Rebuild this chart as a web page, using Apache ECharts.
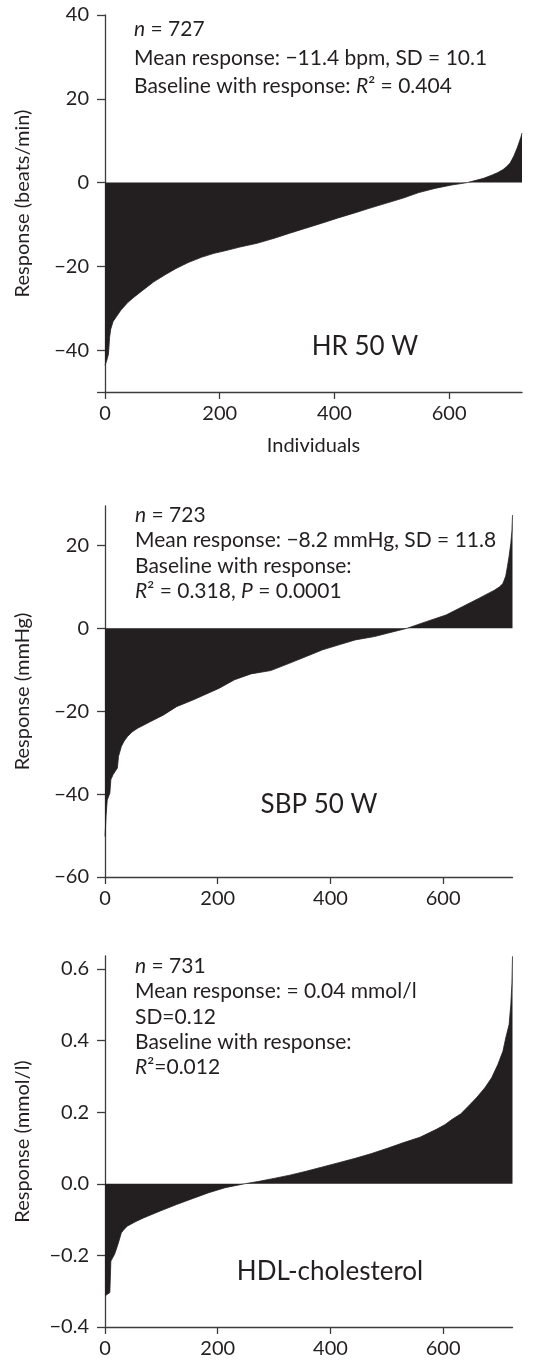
<!DOCTYPE html>
<html>
<head>
<meta charset="utf-8">
<title>Individual responses</title>
<script src="https://cdn.jsdelivr.net/npm/echarts@6/dist/echarts.min.js"></script>
<style>
  html, body { margin: 0; padding: 0; background: #ffffff; }
  #chart { width: 535px; height: 1366px; }
</style>
</head>
<body>
<div id="chart"></div>
<script>
// Individual responses, ranked from lowest to highest: [individual rank, response]
const hrResponse = [
  [0, -43.6], [3, -42.5], [6, -41], [8, -37], [10, -35], [14, -33.2], [20, -32],
  [28, -30.4], [40, -28.6], [51, -27.3], [65, -25.8], [85, -23.7], [105, -22],
  [124, -20.5], [145, -19.1], [169, -17.8], [190, -16.9], [209, -16.3], [235, -15.4],
  [265, -14.5], [295, -13.3], [322, -12.1], [350, -10.9], [378, -9.7], [405, -8.5],
  [434, -7.3], [462, -6.1], [491, -4.9], [520, -3.7], [547, -2.4], [575, -1.4],
  [604, -0.6], [632, 0], [660, 1.0], [675, 1.8], [685, 2.4], [694, 3.1], [700, 3.8],
  [706, 4.6], [710, 5.6], [713, 6.4], [716, 7.4], [719, 8.4], [722, 9.6], [725, 10.8], [727, 11.8]
];
const sbpResponse = [
  [0, -50.2], [2, -45], [4, -41.4], [8.6, -39.8], [10.4, -36.5], [14.4, -35.3],
  [22, -33.7], [24, -30.9], [29, -28.5], [34, -27.2], [40, -26.1], [48, -25.0], [58, -24.1], [81, -22.5],
  [104, -20.9], [127, -18.9], [156, -17.3], [179, -15.9], [202, -14.5], [230, -12.4],
  [259, -11.0], [294, -10.2], [328, -8.4], [357, -6.8], [386, -5.2], [415, -4.0],
  [444, -2.8], [478, -2.0], [501, -1.2], [536, 0], [570, 1.6], [605, 3.2], [634, 5.2],
  [663, 7.2], [691, 9.2], [700, 10.0], [706, 10.8], [711, 12.6], [714, 14.9], [717, 17.4],
  [720, 20.5], [722, 23.5], [723, 27.3]
];
const hdlResponse = [
  [0, -0.313], [8.6, -0.304], [10.4, -0.216], [17, -0.197], [23, -0.169], [29, -0.137],
  [34, -0.127], [40, -0.118], [54, -0.106], [69, -0.095], [98, -0.076], [127, -0.058], [156, -0.041], [184, -0.025],
  [213, -0.011], [248, 0], [271, 0.006], [300, 0.015], [328, 0.024], [357, 0.035],
  [386, 0.047], [415, 0.059], [444, 0.071], [472, 0.084], [501, 0.099], [530, 0.115],
  [559, 0.130], [588, 0.152], [603, 0.165], [616, 0.180], [631, 0.195], [645, 0.217],
  [659, 0.240], [674, 0.268], [686, 0.296], [697, 0.333], [706, 0.370], [711, 0.407],
  [717, 0.445], [720, 0.50], [722, 0.56], [723, 0.635]
];

const xTickValues = [0, 200, 400, 600];
const hrTickValues = [-50, -40, -20, 0, 20, 40];
const hrLabelValues = [-40, -20, 0, 20, 40];
const sbpTickValues = [-60, -40, -20, 0, 20];
const hdlTickValues = [-0.4, -0.2, 0, 0.2, 0.4, 0.6];

const hrNotes = ['{i|n} = 727', 'Mean response: \u221211.4 bpm, SD = 10.1', 'Baseline with response: {i|R}\u00b2 = 0.404'];
const sbpNotes = ['{i|n} = 723', 'Mean response: \u22128.2 mmHg, SD = 11.8', 'Baseline with response:', '{i|R}\u00b2 = 0.318, {i|P} = 0.0001'];
const hdlNotes = ['{i|n} = 731', 'Mean response: = 0.04 mmol/l', 'SD=0.12', 'Baseline with response:', '{i|R}\u00b2=0.012'];

const INK = '#231f20';
const AXIS = '#3c3c3c';
const FONT = 'Lato';

const chart = echarts.init(document.getElementById('chart'), null, { renderer: 'canvas' });

const minus = s => String(s).replace('-', '\u2212');

function xAxis(gridIndex, max, name) {
  return {
    type: 'value', gridIndex, min: 0, max,
    name: name || '', nameLocation: 'middle', nameGap: 44,
    nameTextStyle: { color: INK, fontSize: 20, fontFamily: FONT },
    axisLine: { show: true, onZero: false, lineStyle: { color: AXIS, width: 1.3 } },
    axisTick: { show: true, customValues: xTickValues, length: 7, lineStyle: { color: AXIS, width: 1.3 } },
    axisLabel: { customValues: xTickValues, color: INK, fontSize: 20, fontFamily: FONT, margin: 12 },
    splitLine: { show: false }
  };
}

function yAxis(gridIndex, min, max, ticks, labels, fmt, name) {
  return {
    type: 'value', gridIndex, min, max,
    name, nameLocation: 'middle', nameGap: 72,
    nameTextStyle: { color: INK, fontSize: 20, fontFamily: FONT },
    axisLine: { show: true, onZero: false, lineStyle: { color: AXIS, width: 1.3 } },
    axisTick: { show: true, customValues: ticks, length: 8, lineStyle: { color: AXIS, width: 1.3 } },
    axisLabel: { customValues: labels, color: INK, fontSize: 20, fontFamily: FONT, margin: 16, formatter: fmt },
    splitLine: { show: false }
  };
}

function areaSeries(idx, data) {
  return {
    type: 'line', xAxisIndex: idx, yAxisIndex: idx, data,
    showSymbol: false, silent: true, smooth: false,
    lineStyle: { color: INK, width: 0.8 },
    areaStyle: { color: INK, opacity: 1 }
  };
}

function notes(lines, x, y, lh) {
  return {
    type: 'text', x, y, silent: true,
    style: {
      text: lines.join('\n'), fill: INK, fontSize: 21, fontFamily: FONT, lineHeight: lh,
      align: 'left', verticalAlign: 'top',
      rich: { i: { fontStyle: 'italic', fontSize: 21, fontFamily: FONT, fill: INK, lineHeight: lh } }
    }
  };
}

function panelLabel(text, x, y) {
  return {
    type: 'text', x, y, silent: true,
    style: { text, fill: INK, fontSize: 26, fontFamily: FONT, align: 'center', verticalAlign: 'middle' }
  };
}

chart.setOption({
  animation: false,
  backgroundColor: '#ffffff',
  grid: [
    { left: 105, top: 15, width: 417, height: 377 },
    { left: 105, top: 506, width: 407.5, height: 371 },
    { left: 105, top: 956, width: 407.5, height: 371 }
  ],
  xAxis: [
    xAxis(0, 727, 'Individuals'),
    xAxis(1, 723),
    xAxis(2, 723)
  ],
  yAxis: [
    yAxis(0, -50, 40, hrTickValues, hrLabelValues, v => minus(v), 'Response (beats/min)'),
    yAxis(1, -60, 29.5, sbpTickValues, sbpTickValues, v => minus(v), 'Response (mmHg)'),
    yAxis(2, -0.4, 0.636, hdlTickValues, hdlTickValues, v => minus(Number(v).toFixed(1)), 'Response (mmol/l)')
  ],
  series: [
    areaSeries(0, hrResponse),
    areaSeries(1, sbpResponse),
    areaSeries(2, hdlResponse)
  ],
  graphic: [
    notes(hrNotes, 134, 15, 28.5),
    notes(sbpNotes, 135, 502, 25.6),
    notes(hdlNotes, 135, 954, 25.1),
    panelLabel('HR 50 W', 365, 347),
    panelLabel('SBP 50 W', 319, 805),
    panelLabel('HDL-cholesterol', 330, 1272)
  ]
});
</script>
</body>
</html>
